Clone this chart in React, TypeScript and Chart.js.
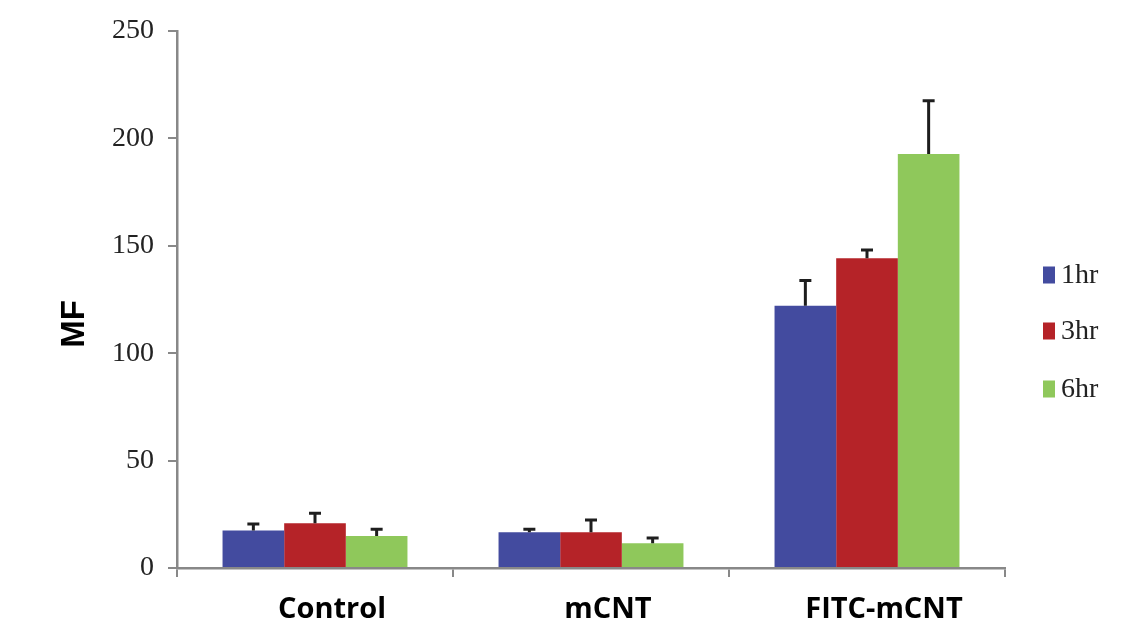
import React, { useEffect, useRef } from "react";
import { Chart, registerables } from "chart.js";

Chart.register(...registerables);

const categories = ["Control", "mCNT", "FITC-mCNT"];
const seriesLabels = ["1hr", "3hr", "6hr"];
const values1hr = [17.4, 16.6, 122.1];
const values3hr = [20.8, 16.6, 144.2];
const values6hr = [14.9, 11.5, 192.7];
const errors1hr = [3.1, 1.4, 11.7];
const errors3hr = [4.7, 5.7, 3.8];
const errors6hr = [3.1, 2.5, 24.8];
const yTicks = [0, 50, 100, 150, 200, 250];
const yTitle = "MF";
const colors = ["#434B9F", "#B52328", "#8FC85B"];

const errorBarPlugin = {
  id: "errorBars",
  afterDatasetsDraw(chart: any) {
    const ctx = chart.ctx;
    const yScale = chart.scales.y;
    const errs = [errors1hr, errors3hr, errors6hr];
    ctx.save();
    ctx.strokeStyle = "#1e1e1e";
    ctx.lineWidth = 3;
    chart.data.datasets.forEach((ds: any, di: number) => {
      const meta = chart.getDatasetMeta(di);
      meta.data.forEach((bar: any, i: number) => {
        const v = ds.data[i];
        const top = yScale.getPixelForValue(v + errs[di][i]);
        ctx.beginPath();
        ctx.moveTo(bar.x, bar.y);
        ctx.lineTo(bar.x, top);
        ctx.moveTo(bar.x - 6, top);
        ctx.lineTo(bar.x + 6, top);
        ctx.stroke();
      });
    });
    ctx.restore();
  },
};

const legendPlugin = {
  id: "customLegend",
  afterDraw(chart: any) {
    const ctx = chart.ctx;
    ctx.save();
    const x0 = 1035;
    const centers = [267, 323, 381];
    chart.data.datasets.forEach((ds: any, i: number) => {
      const cy = centers[i];
      ctx.fillStyle = ds.backgroundColor;
      ctx.fillRect(x0, cy - 8.5, 12, 17);
      ctx.fillStyle = "#222";
      ctx.font = "28px 'Liberation Serif', serif";
      ctx.textBaseline = "middle";
      ctx.textAlign = "left";
      ctx.fillText(ds.label, x0 + 18, cy + 1);
    });
    // y axis title
    ctx.translate(67, 316);
    ctx.rotate(-Math.PI / 2);
    ctx.fillStyle = "#000";
    ctx.font = "bold 33px 'Liberation Sans', Arial, sans-serif";
    ctx.textAlign = "center";
    ctx.textBaseline = "middle";
    ctx.fillText(yTitle, 0, 0);
    ctx.restore();
  },
};

export default function App() {
  const ref = useRef<HTMLCanvasElement>(null);
  useEffect(() => {
    document.body.style.overflow = "hidden";
    if (!ref.current) return;
    const chart = new Chart(ref.current, {
      type: "bar",
      data: {
        labels: categories,
        datasets: [
          { label: seriesLabels[0], data: values1hr, backgroundColor: colors[0] },
          { label: seriesLabels[1], data: values3hr, backgroundColor: colors[1] },
          { label: seriesLabels[2], data: values6hr, backgroundColor: colors[2] },
        ],
      },
      options: {
        responsive: false,
        animation: false,
        devicePixelRatio: 1,
        layout: { padding: { top: 23, right: 130, bottom: 0, left: 0 } },
        datasets: { bar: { categoryPercentage: 0.67, barPercentage: 1.0 } },
        plugins: { legend: { display: false }, tooltip: { enabled: false } },
        scales: {
          x: {
            grid: {
              display: true,
              drawOnChartArea: false,
              drawTicks: true,
              tickLength: 9,
              color: "#888",
              lineWidth: 2,
              offset: true,
            },
            border: { display: true, color: "#888", width: 2.5 },
            ticks: {
              color: "#000",
              padding: 15,
              labelOffset: 17,
              font: { family: "'Open Sans', sans-serif", size: 29, weight: "bold" },
            },
            afterFit(scale: any) {
              scale.height = 56;
              scale.paddingLeft = 0;
              scale.paddingRight = 0;
            },
          },
          y: {
            min: 0,
            max: 250,
            afterBuildTicks(scale: any) {
              scale.ticks = yTicks.map((v) => ({ value: v }));
            },
            grid: {
              display: true,
              drawOnChartArea: false,
              drawTicks: true,
              tickLength: 9,
              color: "#888",
              lineWidth: 2,
            },
            border: { display: true, color: "#888", width: 2.5 },
            ticks: {
              color: "#222",
              padding: 14,
              font: { family: "'Liberation Serif', serif", size: 28 },
            },
            afterFit(scale: any) {
              scale.width = 169;
              scale.paddingTop = 0;
              scale.paddingBottom = 0;
            },
          },
        },
      },
      plugins: [errorBarPlugin, legendPlugin],
    });
    return () => chart.destroy();
  }, []);
  return <canvas ref={ref} width={1127} height={616} style={{ display: "block" }} />;
}
